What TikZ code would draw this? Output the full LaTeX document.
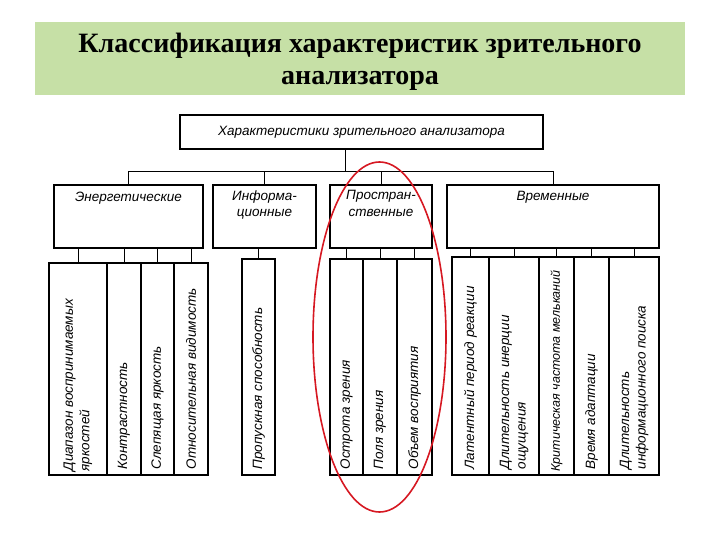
\documentclass[tikz,border=0pt]{standalone}
\usepackage{fontspec}
\setmainfont{Liberation Serif}
\newfontfamily\diagfont{Liberation Sans}
\usepackage{xcolor}
\definecolor{banner}{RGB}{198,224,166}
\definecolor{oval}{RGB}{214,24,34}
\tikzset{box/.style={draw, line width=1.2pt, inner sep=0pt},
  txt/.style={font=\diagfont\itshape\fontsize{13.5}{16.5}\selectfont, inner sep=1pt, align=center},
  vtxt/.style={txt, rotate=90, anchor=west, align=left},
  wire/.style={line width=1pt}}

\begin{document}
\begin{tikzpicture}[x=1pt,y=-1pt]
  \useasboundingbox (0,0) rectangle (720,540);
  \fill[banner] (35,22) rectangle (685,95);
  \node[font=\bfseries\fontsize{28}{32}\selectfont, align=center] (title) at (360,62)
    {Классификация характеристик зрительного\\анализатора};

  \node[box, minimum width=363pt, minimum height=34pt, txt] (top) at (361.5,132)
    {Характеристики зрительного анализатора};

  \node[box, minimum width=149pt, minimum height=63pt] (en) at (128.5,216.5) {};
  \node[box, minimum width=103pt, minimum height=63pt] (inf) at (264.5,216.5) {};
  \node[box, minimum width=102pt, minimum height=63pt] (sp) at (381,216.5) {};
  \node[box, minimum width=212pt, minimum height=63pt] (vr) at (553,216.5) {};
  \node[txt, anchor=north] (enl) at ([yshift=-6pt]en.north) {Энергетические};
  \node[txt, anchor=north] (infl) at ([yshift=-5pt]inf.north) {Информа-\\ционные};
  \node[txt, anchor=north] (spl) at ([yshift=-5pt]sp.north) {Простран-\\ственные};
  \node[txt, anchor=north] (vrl) at ([yshift=-6pt]vr.north) {Временные};

  \coordinate (bus) at (345,172);
  \draw[wire] (top.south -| bus) -- (bus);
  \draw[wire] (en.north) |- (bus);
  \draw[wire] (inf.north) |- (bus);
  \draw[wire] (sp.north) |- (bus);
  \draw[wire] (vr.north) |- (bus);

  \node[box, minimum width=58pt, minimum height=212pt] (e1) at (78,369) {};
  \node[box, minimum width=34pt, minimum height=212pt] (e2) at (124,369) {};
  \node[box, minimum width=33pt, minimum height=212pt] (e3) at (157.5,369) {};
  \node[box, minimum width=34pt, minimum height=212pt] (e4) at (191,369) {};
  \node[box, minimum width=33pt, minimum height=216pt] (i1) at (258.5,367) {};
  \node[box, minimum width=33pt, minimum height=216pt] (s1) at (346.5,367) {};
  \node[box, minimum width=34pt, minimum height=216pt] (s2) at (380,367) {};
  \node[box, minimum width=35pt, minimum height=216pt] (s3) at (414.5,367) {};
  \node[box, minimum width=37pt, minimum height=218pt] (v1) at (470.5,366) {};
  \node[box, minimum width=50pt, minimum height=218pt] (v2) at (514,366) {};
  \node[box, minimum width=35pt, minimum height=218pt] (v3) at (556.5,366) {};
  \node[box, minimum width=35pt, minimum height=218pt] (v4) at (591.5,366) {};
  \node[box, minimum width=50pt, minimum height=218pt] (v5) at (634,366) {};

  \foreach \c in {e1,e2,e3,e4}
    \draw[wire] (en.south -| \c.north) -- (\c.north);
  \draw[wire] (inf.south -| i1.north) -- (i1.north);
  \foreach \c in {s1,s2,s3}
    \draw[wire] (sp.south -| \c.north) -- (\c.north);
  \foreach \c in {v1,v2,v3,v4,v5}
    \draw[wire] (vr.south -| \c.north) -- (\c.north);

  \node[vtxt] (e1l) at ([yshift=3pt]e1.south) {Диапазон воспринимаемых\\яркостей};
  \node[vtxt] (e2l) at ([yshift=5pt]e2.south) {Контрастность};
  \node[vtxt] (e3l) at ([yshift=5pt]e3.south) {Слепящая яркость};
  \node[vtxt] (e4l) at ([yshift=5pt]e4.south) {Относительная видимость};
  \node[vtxt] (i1l) at ([yshift=5pt]i1.south) {Пропускная способность};
  \node[vtxt] (s1l) at ([yshift=5pt]s1.south) {Острота зрения};
  \node[vtxt] (s2l) at ([yshift=5pt]s2.south) {Поля зрения};
  \node[vtxt] (s3l) at ([yshift=5pt]s3.south) {Объем восприятия};
  \node[vtxt] (v1l) at ([yshift=5pt]v1.south) {Латентный период реакции};
  \node[vtxt] (v2l) at ([yshift=5pt]v2.south) {Длительность инерции\\ощущения};
  \node[vtxt, font=\diagfont\itshape\fontsize{12.5}{15}\selectfont] (v3l)
    at ([yshift=3pt]v3.south) {Критическая частота мельканий};
  \node[vtxt] (v4l) at ([yshift=5pt]v4.south) {Время адаптации};
  \node[vtxt] (v5l) at ([yshift=5pt]v5.south) {Длительность\\информационного поиска};

  \draw[oval, line width=1.6pt] (379.5,337) ellipse [x radius=66.5, y radius=175];
\end{tikzpicture}
\end{document}
